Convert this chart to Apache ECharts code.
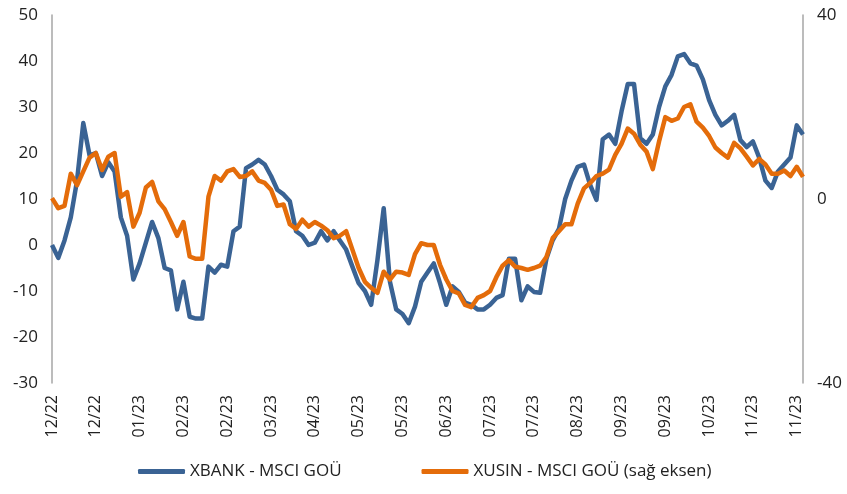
<!DOCTYPE html>
<html>
<head>
<meta charset="utf-8">
<script src="https://cdn.jsdelivr.net/npm/echarts@6/dist/echarts.min.js"></script>
<style>
  html, body { margin: 0; padding: 0; background: #fff; }
  #chart { width: 847px; height: 494px; }
</style>
</head>
<body>
<div id="chart"></div>
<script>
// tick labels shown every 7th point
const tickLabels = ['12/22', '12/22', '01/23', '02/23', '02/23', '03/23', '04/23', '05/23', '05/23',
  '06/23', '07/23', '07/23', '08/23', '09/23', '09/23', '10/23', '11/23', '11/23'];
const labelStep = 7;

// XBANK - MSCI GOÜ (left axis)
const xbank = [0, -2.8, 1, 6, 14, 26.5, 19.5, 20, 15, 18, 16, 6, 2, -7.5, -4, 0.5, 5, 1.5, -5, -5.5,
  -14, -8, -15.6, -16, -16, -4.7, -6, -4.3, -4.7, 3, 4, 16.7, 17.5, 18.5, 17.5, 15, 12, 11, 9.5, 3,
  2, 0, 0.5, 3, 1, 3, 1, -1, -4.7, -8.3, -10, -13, -3.3, 8, -8, -14, -15, -17, -13.4, -8,
  -6, -4, -8.3, -13, -9, -10.2, -12.5, -13, -14, -14, -13, -11.5, -10.9, -3, -3, -12, -9, -10.2, -10.4, -3,
  1, 3.5, 10, 14, 17, 17.5, 13, 9.8, 23, 24, 22, 29, 35, 35, 23.2, 22, 24, 30, 34.5, 37,
  41, 41.5, 39.5, 39, 36, 31.5, 28.3, 26, 27, 28.3, 22.8, 21.3, 22.5, 19, 14, 12.4, 16, 17.5, 19, 26,
  24];

// XUSIN - MSCI GOÜ (right axis)
const xusin = [0.2, -2, -1.5, 5.5, 3, 6, 9, 10, 6.3, 9.2, 10, 0.5, 1.5, -6, -3, 2.5, 3.7, -0.5, -2.2, -5,
  -8, -5, -12.5, -13, -13, 0.5, 5, 4, 6, 6.5, 4.8, 5, 6, 4, 3.5, 2, -1.5, -1.2, -5.5, -6.5,
  -4.5, -6, -5, -5.8, -6.8, -8.5, -8, -7, -11, -15, -18, -19.3, -20.4, -15.8, -17.5, -15.8, -16, -16.5, -12, -9.6,
  -10, -10, -14.3, -17.5, -20, -20.5, -23, -23.5, -21.5, -20.9, -20, -17, -14.5, -13.3, -14.7, -15, -15.4, -15, -14.5, -12.6,
  -8.5, -7, -5.5, -5.5, -1, 2.3, 3.5, 5, 5.5, 6.4, 9.6, 12, 15.3, 14.2, 11.8, 10.3, 6.5, 12.5, 17.8, 17,
  17.5, 20, 20.6, 16.8, 15.5, 13.7, 11.2, 10, 9, 12.2, 11, 9.2, 7.3, 8.7, 7.5, 5.5, 5.5, 6.2, 5, 7,
  4.8];

const categories = xbank.map((v, i) => i);

const chart = echarts.init(document.getElementById('chart'));
const font = 'Open Sans';

chart.setOption({
  animation: false,
  textStyle: { fontFamily: font },
  grid: { left: 52, right: 44, top: 15, bottom: 111 },
  legend: {
    bottom: 9,
    left: 133,
    itemWidth: 47,
    itemHeight: 5,
    itemGap: 80,
    icon: 'roundRect',
    textStyle: { fontSize: 17, color: '#222', fontFamily: font },
    data: ['XBANK - MSCI GOÜ', 'XUSIN - MSCI GOÜ (sağ eksen)']
  },
  xAxis: {
    type: 'category',
    data: categories,
    boundaryGap: false,
    axisLine: { show: false },
    axisTick: { show: false },
    axisLabel: {
      interval: labelStep - 1,
      rotate: 90,
      margin: 12,
      fontSize: 16,
      color: '#222',
      formatter: (v, idx) => tickLabels[idx / labelStep] || ''
    }
  },
  yAxis: [
    {
      type: 'value',
      min: -30, max: 50, interval: 10,
      axisLine: { show: true, lineStyle: { color: '#a6a6a6', width: 1.5 } },
      axisTick: { show: false },
      splitLine: { show: false },
      axisLabel: { fontSize: 17, color: '#222', margin: 14 }
    },
    {
      type: 'value',
      min: -40, max: 40, interval: 40,
      axisLine: { show: true, lineStyle: { color: '#a6a6a6', width: 1.5 } },
      axisTick: { show: false },
      splitLine: { show: false },
      axisLabel: { fontSize: 17, color: '#222', margin: 14 }
    }
  ],
  series: [
    {
      name: 'XBANK - MSCI GOÜ',
      type: 'line',
      data: xbank,
      yAxisIndex: 0,
      symbol: 'none',
      lineStyle: { color: '#3a6394', width: 4.5, join: 'round' },
      itemStyle: { color: '#3a6394' }
    },
    {
      name: 'XUSIN - MSCI GOÜ (sağ eksen)',
      type: 'line',
      data: xusin,
      yAxisIndex: 1,
      symbol: 'none',
      lineStyle: { color: '#e46c0a', width: 4.5, join: 'round' },
      itemStyle: { color: '#e46c0a' }
    }
  ]
});
</script>
</body>
</html>
